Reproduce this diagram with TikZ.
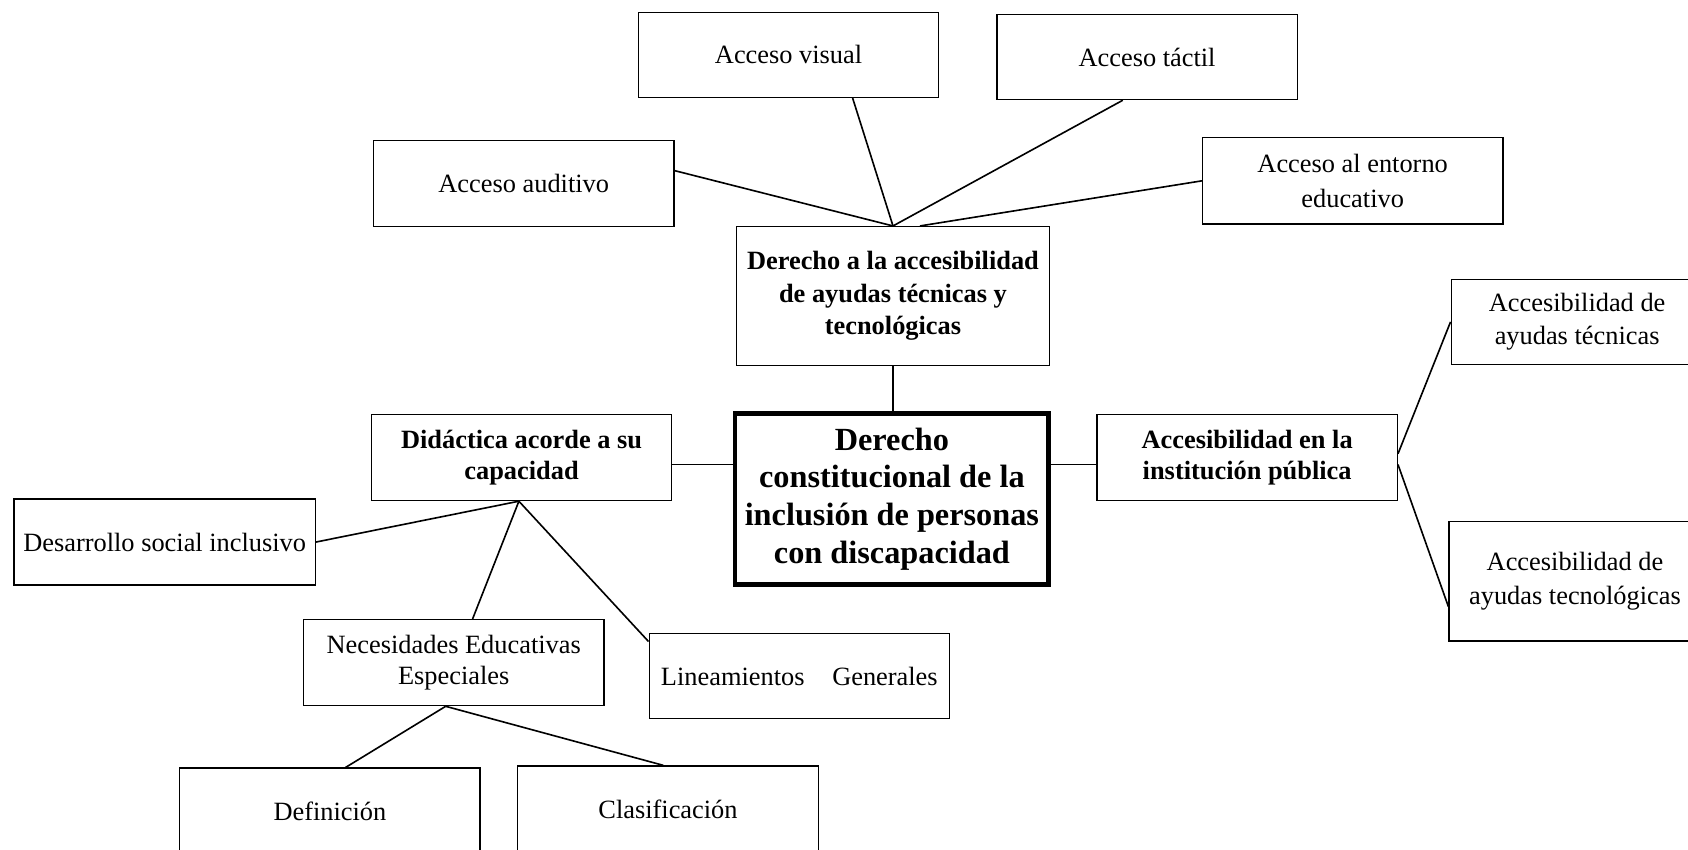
\documentclass[tikz,border=0pt]{standalone}
\usepackage{fontspec}
\setmainfont{Liberation Serif}
\usetikzlibrary{calc}
\begin{document}
\begin{tikzpicture}[x=1pt,y=1pt]
\tikzset{
 box/.style={draw, line width=1.2pt, inner sep=0pt, align=center, font=\fontsize{24.5}{32}\selectfont},
 bbox/.style={box, font=\fontsize{24.5}{30}\selectfont\bfseries},
 cbox/.style={draw, line width=4pt, inner sep=0pt, align=center, font=\fontsize{30}{35}\selectfont\bfseries},
 link/.style={line width=1.5pt}
}
\useasboundingbox (0,0) rectangle (1568,789);
\clip (0,0) rectangle (1568,789);
\fill[white] (0,0) rectangle (1568,789);
% nodes
\node[box, minimum width=279, minimum height=79] (visual) at (732.5,738) {Acceso visual};
\node[box, minimum width=279, minimum height=79] (tactil) at (1065.5,736) {Acceso táctil};
\node[box, minimum width=279, minimum height=80] (auditivo) at (486.5,618.5) {Acceso auditivo};
\node[box, minimum width=279, minimum height=80] (entorno) at (1256.5,621) {Acceso al entorno\\educativo};
\node[bbox, minimum width=291, minimum height=129] (dacc) at (829.5,514) {Derecho a la accesibilidad\\de ayudas técnicas y\\tecnológicas};
\node[cbox, minimum width=291, minimum height=159] (central) at (828.5,325.5) {Derecho\\constitucional de la\\inclusión de personas\\con discapacidad};
\node[bbox, minimum width=279, minimum height=80, font=\fontsize{24.5}{29}\selectfont\bfseries] (didac) at (484.5,364) {Didáctica acorde a su\\capacidad};
\node[bbox, minimum width=279, minimum height=80, font=\fontsize{24.5}{29}\selectfont\bfseries] (inst) at (1158.5,364) {Accesibilidad en la\\institución pública};
\node[box, minimum width=234, minimum height=79, font=\fontsize{24.5}{31}\selectfont] (tec) at (1465,490) {Accesibilidad de\\ayudas técnicas};
\node[box, minimum width=234, minimum height=111, font=\fontsize{24.5}{31}\selectfont] (tecno) at (1463,249) {Accesibilidad de\\ayudas tecnológicas};
\node[box, minimum width=280, minimum height=80] (desarrollo) at (153,285.5) {Desarrollo social inclusivo};
\node[box, minimum width=279, minimum height=80, font=\fontsize{24.5}{29}\selectfont] (nee) at (421.5,173.5) {Necesidades Educativas\\Especiales};
\node[box, minimum width=279, minimum height=79] (linea) at (742.5,161) {\makebox[257pt][s]{Lineamientos Generales}};
\node[box, minimum width=279, minimum height=80] (defin) at (306.5,35.5) {Definición};
\node[box, minimum width=279, minimum height=80] (clasif) at (620.5,37.5) {Clasificación};
% connectors
\coordinate (lmid) at ($(didac.east)+(0,-6.5)$);
\coordinate (rmid) at ($(inst.west)+(0,-6.5)$);
\draw[link] ($(auditivo.east)+(0,12)$) -- (dacc.north);
\draw[link] ($(visual.south)+(59.5,0)$) -- (dacc.north);
\draw[link] ($(tactil.south)+(-22.5,0)$) -- (dacc.north);
\draw[link] (entorno.west) -- ($(dacc.north)+(25,0)$);
\draw[link] (dacc.south) -- (dacc.south |- central.north);
\draw[link] (lmid) -- (central.west |- lmid);
\draw[link] (central.east |- rmid) -- (rmid);
\draw[link] ($(inst.east)+(0,3.5)$) -- (tec.west);
\draw[link] ($(inst.east)+(0,-6.5)$) -- ($(tecno.west)+(0,-23.5)$);
\draw[link] ($(didac.south)+(-2.5,0)$) -- (desarrollo.east);
\draw[link] ($(didac.south)+(-2.5,0)$) -- ($(nee.north)+(17.5,0)$);
\draw[link] ($(didac.south)+(-2.5,0)$) -- ($(linea.north west)+(0,-8)$);
\draw[link] ($(nee.south)+(-7.5,0)$) -- ($(defin.north)+(14.5,0)$);
\draw[link] ($(nee.south)+(-7.5,0)$) -- ($(clasif.north)+(-4.5,0)$);
\end{tikzpicture}
\end{document}
